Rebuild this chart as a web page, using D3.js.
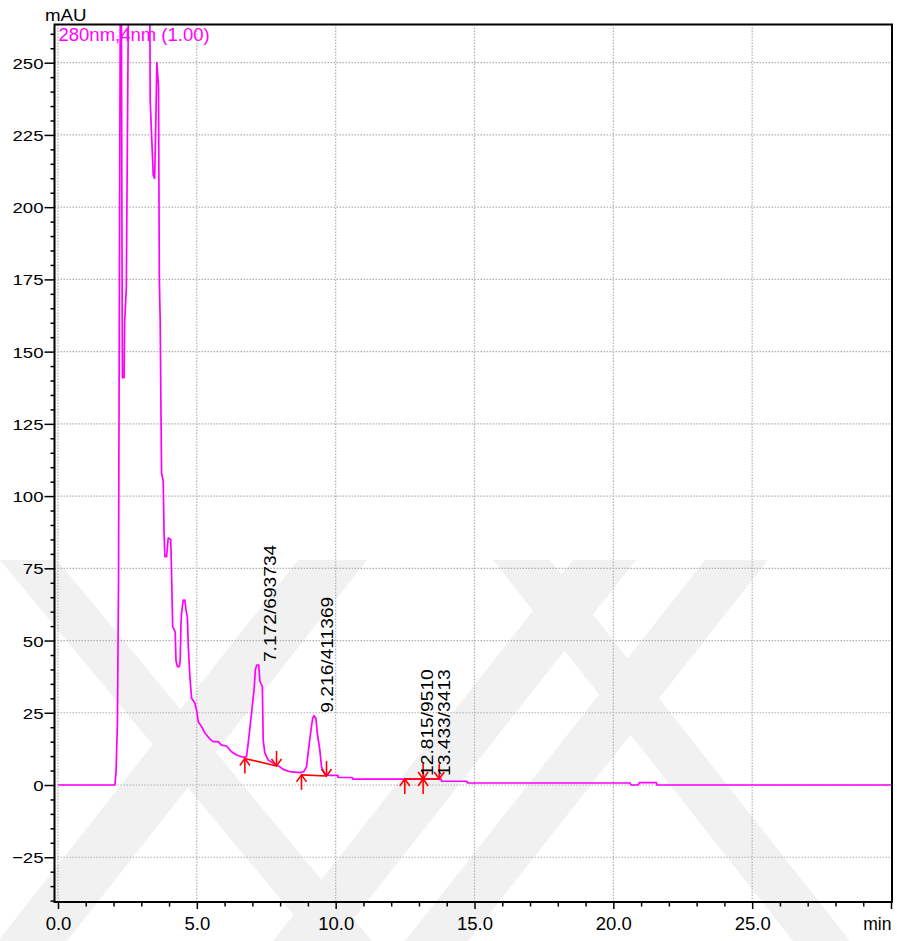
<!DOCTYPE html>
<html>
<head>
<meta charset="utf-8">
<script src="https://cdn.jsdelivr.net/npm/d3@7"></script>
<style>
  html, body { margin: 0; padding: 0; background: #ffffff; }
  svg { display: block; font-family: "Liberation Sans", Arial, sans-serif; }
</style>
</head>
<body>
<svg id="chart" width="897" height="941"></svg>
<script>
// ---------------- data ----------------
const retentionTime = [
  0, 2.05, 2.09, 2.14, 2.18, 2.22, 2.25, 2.28, 2.30, 2.32, 2.38, 2.40, 2.46, 2.55,
  3.30, 3.31, 3.32, 3.43, 3.48, 3.52, 3.56, 3.62, 3.65, 3.68, 3.71, 3.73, 3.79,
  3.82, 3.85, 3.91, 3.97, 4.06, 4.09, 4.13, 4.22, 4.25, 4.30, 4.37, 4.40, 4.43,
  4.45, 4.51, 4.57, 4.61, 4.66, 4.69, 4.75, 4.81, 4.93, 5.00, 5.05, 5.17, 5.29,
  5.47, 5.59, 5.77, 5.89, 6.07, 6.25, 6.43, 6.67, 6.79, 6.85, 6.97, 7.06, 7.11,
  7.16, 7.23, 7.27, 7.36, 7.39, 7.45, 7.57, 7.75, 7.99, 8.11, 8.35, 8.71, 8.85,
  8.95, 9.05, 9.11, 9.17, 9.22, 9.29, 9.34, 9.43, 9.49, 9.61, 9.79, 10.08, 10.09,
  10.60, 10.61, 13.80, 13.81, 14.73, 14.74, 20.60, 20.64, 20.90, 20.94, 21.55,
  21.57, 30
];
const absorbance = [
  0, 0, 4.6, 21.5, 71, 200, 290, 290, 200, 141, 141, 160, 172, 290,
  290, 262, 237, 211, 210, 228, 250, 242, 175, 161, 128, 108, 105,
  87, 79, 79, 85.5, 85, 73.3, 54.8, 53, 43, 41, 41, 43, 56,
  59.5, 64, 64, 60.6, 58, 48.5, 37.5, 30, 28.4, 25.4, 21.9, 20.2, 18,
  15.9, 15, 15, 13.8, 13.5, 11.5, 10.4, 9.6, 9.8, 14.4, 24.8, 33, 40,
  41.5, 41.5, 36, 34, 15.6, 11, 8.7, 7.5, 6.3, 5.4, 4.6, 4.3, 4.6,
  6.3, 14.4, 19, 23, 24, 23, 17.9, 12.1, 6.3, 3.8, 3.3, 3.3, 2.6,
  2.6, 2.0, 2.0, 1.3, 1.3, 0.7, 0.7, 0, 0, 0.8, 0.8,
  0, 0
];

// integrated peaks
const peakRT       = [7.172, 9.216, 12.815, 13.433];
const peakArea     = [693734, 411369, 9510, 3413];
const peakApex     = [41.5, 24, 2.1, 2.1];
const peakStartT   = [6.73, 8.77, 12.49, 13.15];
const peakStartVal = [9.2, 3.5, 2.1, 2.1];
const peakEndT     = [7.87, 9.67, 13.15, 13.73];
const peakEndVal   = [6.6, 3.1, 2.1, 2.1];

// axes
const xMajorTicks = [0, 5, 10, 15, 20, 25, 30];
const xTickLabels = ["0.0", "5.0", "10.0", "15.0", "20.0", "25.0", ""];
const yMajorTicks = [-25, 0, 25, 50, 75, 100, 125, 150, 175, 200, 225, 250];
const channelLabel = "280nm,4nm (1.00)";
const yUnit = "mAU";
const xUnit = "min";

// ---------------- drawing ----------------
const svg = d3.select("#chart");
const frame = { left: 54.5, right: 892, top: 24.5, bottom: 902 };
const x = d3.scaleLinear().domain([0, 30]).range([58, 891]);
const y = d3.scaleLinear().domain([0, 250]).range([785, 62.7]);

// watermark (decorative background)
const wm = svg.append("g").attr("fill", "#f1f1f1");
const bands = [
  [[0, 560], [57, 560], [372, 941], [315, 941]],
  [[298, 560], [367, 560], [67, 941], [-2, 941]],
  [[493, 560], [550, 560], [850, 941], [793, 941]],
  [[573, 560], [636, 560], [336, 941], [273, 941]],
  [[705, 560], [768, 560], [468, 941], [405, 941]]
];
wm.selectAll("polygon").data(bands).join("polygon")
  .attr("points", d => d.map(p => p.join(",")).join(" "));

// grid
const grid = svg.append("g")
  .attr("stroke", "#b0b0b0").attr("stroke-width", 1.2)
  .attr("stroke-dasharray", "1.5,1.5");
grid.selectAll("line.v").data([0, 5, 10, 15, 20, 25]).join("line")
  .attr("class", "v")
  .attr("x1", d => x(d)).attr("x2", d => x(d))
  .attr("y1", frame.top).attr("y2", frame.bottom);
grid.selectAll("line.h").data(yMajorTicks).join("line")
  .attr("class", "h")
  .attr("x1", frame.left).attr("x2", frame.right)
  .attr("y1", d => y(d)).attr("y2", d => y(d));

// curve
svg.append("clipPath").attr("id", "plotClip").append("rect")
  .attr("x", frame.left).attr("y", frame.top)
  .attr("width", frame.right - frame.left).attr("height", frame.bottom - frame.top);

const pts = retentionTime.map((t, i) => [t, absorbance[i]]);
const line = d3.line().x(d => x(d[0])).y(d => y(d[1]));
svg.append("path")
  .attr("clip-path", "url(#plotClip)")
  .attr("d", line(pts))
  .attr("fill", "none")
  .attr("stroke", "#ff00ff")
  .attr("stroke-width", 1.7)
  .attr("stroke-linejoin", "round");

// integration baselines & markers
const mk = svg.append("g").attr("stroke", "#ff0000").attr("stroke-width", 1.6).attr("fill", "none");
peakRT.forEach((rt, i) => {
  const xs = x(peakStartT[i]), ys = y(peakStartVal[i]);
  const xe = x(peakEndT[i]), ye = y(peakEndVal[i]);
  mk.append("line").attr("x1", xs).attr("y1", ys).attr("x2", xe).attr("y2", ye);
  // up arrow at start
  mk.append("line").attr("x1", xs).attr("y1", ys).attr("x2", xs).attr("y2", ys + 15);
  mk.append("polyline").attr("points", `${xs - 5},${ys + 7} ${xs},${ys} ${xs + 5},${ys + 7}`);
  // down arrow at end
  mk.append("line").attr("x1", xe).attr("y1", ye - 15).attr("x2", xe).attr("y2", ye);
  mk.append("polyline").attr("points", `${xe - 5},${ye - 7} ${xe},${ye} ${xe + 5},${ye - 7}`);
});

// peak labels
svg.append("g").selectAll("text").data(peakRT).join("text")
  .attr("transform", (d, i) => `translate(${x(d) + 19},${y(peakApex[i]) - 3}) rotate(-90) scale(1.2,1)`)
  .attr("font-size", 16)
  .attr("fill", "#000")
  .text((d, i) => `${d.toFixed(3)}/${peakArea[i]}`);

// frame
svg.append("rect")
  .attr("x", frame.left).attr("y", frame.top)
  .attr("width", frame.right - frame.left).attr("height", frame.bottom - frame.top)
  .attr("fill", "none").attr("stroke", "#000").attr("stroke-width", 2);

// x axis
const xMinor = d3.range(0, 31).filter(v => v % 5 !== 0);
const xAxisMinor = d3.axisBottom(x).tickValues(xMinor).tickSize(4.5).tickFormat("");
const xAxisMajor = d3.axisBottom(x).tickValues(xMajorTicks).tickSize(7)
  .tickFormat((d, i) => xTickLabels[i]);
const gxm = svg.append("g").attr("transform", `translate(0,${frame.bottom})`).call(xAxisMinor);
const gx = svg.append("g").attr("transform", `translate(0,${frame.bottom})`).call(xAxisMajor);
[gxm, gx].forEach(g => {
  g.select(".domain").remove();
  g.selectAll(".tick line").attr("stroke", "#000").attr("stroke-width", 1.5);
});
gx.selectAll(".tick text")
  .attr("y", 28).attr("dy", 0)
  .attr("font-size", 18.5).attr("font-family", "Liberation Sans, Arial, sans-serif")
  .attr("fill", "#000");

// y axis
const yMinor = d3.range(-40, 261, 5).filter(v => v % 25 !== 0);
const yAxisMinor = d3.axisLeft(y).tickValues(yMinor).tickSize(4).tickFormat("");
const yAxisMajor = d3.axisLeft(y).tickValues(yMajorTicks).tickSize(10).tickFormat(d3.format("d"));
const gym = svg.append("g").attr("transform", `translate(${frame.left},0)`).call(yAxisMinor);
const gy = svg.append("g").attr("transform", `translate(${frame.left},0)`).call(yAxisMajor);
[gym, gy].forEach(g => {
  g.select(".domain").remove();
  g.selectAll(".tick line").attr("stroke", "#000").attr("stroke-width", 1.5);
});
gy.selectAll(".tick text")
  .attr("x", -11 / 1.2).attr("dy", "0.36em")
  .attr("transform", "scale(1.2,1)")
  .attr("font-size", 15.5).attr("font-family", "Liberation Sans, Arial, sans-serif")
  .attr("fill", "#000");

// unit labels and channel legend
svg.append("text")
  .attr("transform", `translate(45,20.7) scale(1.1,1)`)
  .attr("font-size", 17).attr("fill", "#000").text(yUnit);
svg.append("text")
  .attr("x", 891.5).attr("y", 930).attr("text-anchor", "end")
  .attr("font-size", 17.5).attr("fill", "#000").text(xUnit);
svg.append("text")
  .attr("x", 58.5).attr("y", 40.5)
  .attr("font-size", 18.5).attr("fill", "#ff00ff").text(channelLabel);
</script>
</body>
</html>
